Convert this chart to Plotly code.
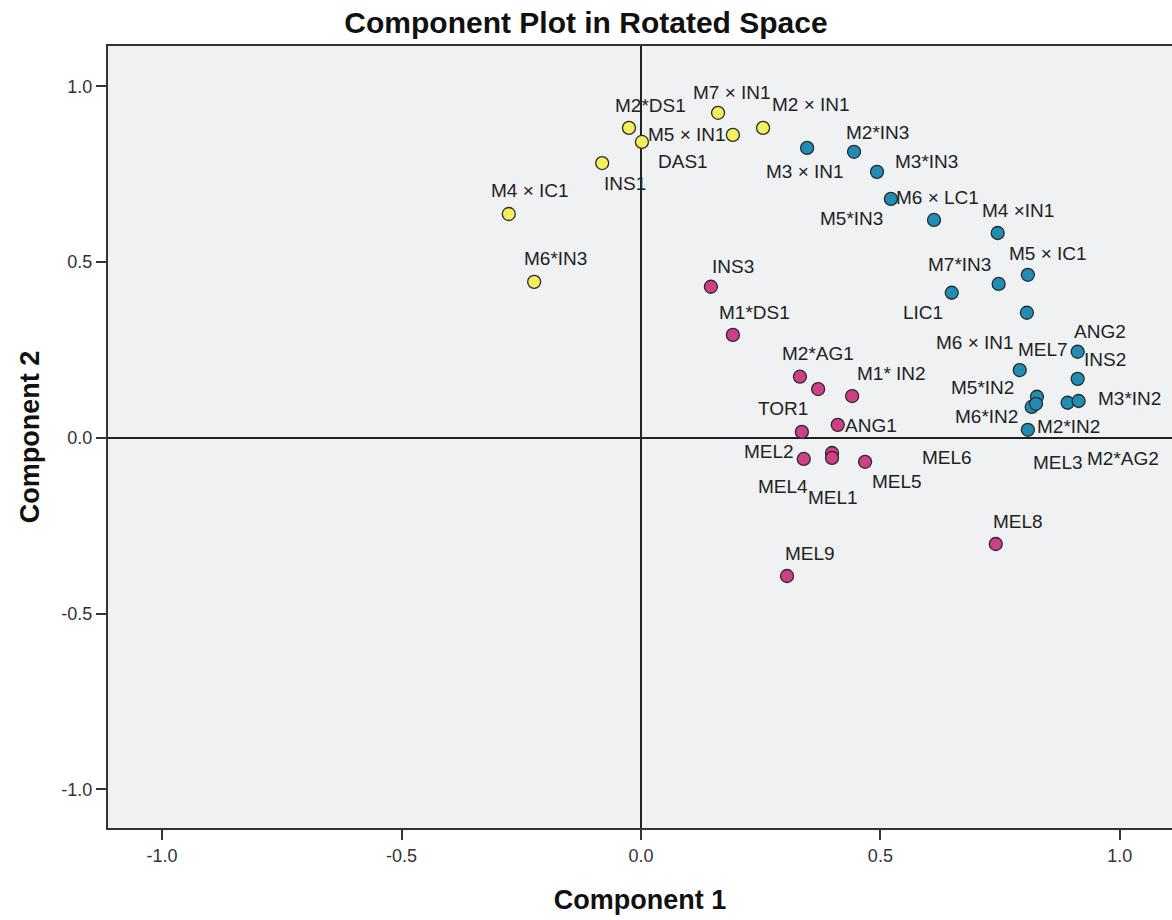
import plotly.graph_objects as go

# ---- data (component loadings) ----
yellow_names = ["M2*DS1", "DAS1", "M7 × IN1", "M5 × IN1", "M2 × IN1", "INS1", "M4 × IC1", "M6*IN3"]
yellow_x = [-0.025, 0.002, 0.161, 0.192, 0.255, -0.081, -0.276, -0.223]
yellow_y = [0.882, 0.842, 0.925, 0.862, 0.882, 0.782, 0.637, 0.444]

blue_names = ["M3 × IN1", "M2*IN3", "M3*IN3", "M6 × LC1", "M5*IN3", "M4 ×IN1", "M5 × IC1",
              "M7*IN3", "LIC1", "M6 × IN1", "ANG2", "MEL7", "INS2", "M5*IN2", "M6*IN2",
              "MEL3", "M2*AG2", "M3*IN2", "M2*IN2"]
blue_x = [0.347, 0.445, 0.493, 0.522, 0.612, 0.745, 0.808, 0.747, 0.649, 0.806, 0.912,
          0.791, 0.912, 0.827, 0.816, 0.825, 0.891, 0.914, 0.808]
blue_y = [0.825, 0.814, 0.757, 0.680, 0.620, 0.583, 0.464, 0.438, 0.413, 0.356, 0.245,
          0.193, 0.168, 0.117, 0.088, 0.097, 0.100, 0.105, 0.023]

pink_names = ["INS3", "M1*DS1", "M2*AG1", "MEL6", "M1* IN2", "TOR1", "ANG1", "MEL2",
              "MEL4", "MEL1", "MEL5", "MEL9", "MEL8"]
pink_x = [0.146, 0.192, 0.332, 0.370, 0.441, 0.336, 0.411, 0.340, 0.399, 0.399, 0.468, 0.305, 0.741]
pink_y = [0.430, 0.293, 0.174, 0.139, 0.119, 0.017, 0.037, -0.060, -0.043, -0.057, -0.068, -0.393, -0.302]

tick_vals = [-1.0, -0.5, 0.0, 0.5, 1.0]
tick_text = ["-1.0", "-0.5", "0.0", "0.5", "1.0"]

# ---- label placement offsets in pixels (style only) ----
yellow_off = [(22, -22), (41, 20), (14, -20), (-46, 0), (48, -23), (23, 20), (21, -24), (21, -23)]
blue_off = [(-2, 24), (23, -19), (49, -10), (47, -1), (-83, -1), (20, -22), (20, -21),
            (-39, -19), (-29, 20), (-52, 30), (22, -20), (23, -21), (27, -19), (-54, -9),
            (-45, 10), (22, 59), (55, 56), (51, -2), (41, -3)]
pink_off = [(22, -20), (22, -22), (18, -23), (129, 68), (39, -23), (-19, -23), (33, 1),
            (-35, -7), (-49, 34), (1, 40), (32, 20), (23, -23), (22, -23)]

FONT = "Liberation Sans, Arial, sans-serif"

groups = [
    (yellow_names, yellow_x, yellow_y, yellow_off, "#F4EF5E"),
    (blue_names, blue_x, blue_y, blue_off, "#1F8DB6"),
    (pink_names, pink_x, pink_y, pink_off, "#D23F89"),
]

fig = go.Figure()
annotations = []
for names, xs, ys, offs, color in groups:
    fig.add_trace(go.Scatter(
        x=xs, y=ys, mode="markers", text=names, hoverinfo="text",
        marker=dict(size=13, color=color, line=dict(color="#2a2a2a", width=1.3)),
        showlegend=False,
    ))
    for n, xv, yv, (dx, dy) in zip(names, xs, ys, offs):
        annotations.append(dict(
            x=xv, y=yv, xref="x", yref="y", text=n, showarrow=False,
            xshift=dx, yshift=-dy, xanchor="center", yanchor="middle",
            font=dict(family=FONT, size=19, color="#222222"),
        ))

fig.update_layout(
    width=1172, height=920,
    margin=dict(l=108, r=0, t=46, b=92),
    paper_bgcolor="white",
    plot_bgcolor="#F0F1F2",
    title=dict(text="Component Plot in Rotated Space", x=0.5, xref="container",
               y=1 - 22 / 920, yref="container", xanchor="center", yanchor="middle",
               font=dict(family=FONT, size=30, color="#111111", weight="bold")),
    annotations=annotations,
    font=dict(family=FONT),
)
fig.update_xaxes(
    range=[-1.113, 1.109], tickvals=tick_vals, ticktext=tick_text,
    showgrid=False, zeroline=True, zerolinecolor="#222222", zerolinewidth=2,
    showline=True, linecolor="#333333", linewidth=2, mirror=True,
    ticks="outside", ticklen=10, tickwidth=1.5, tickcolor="#333333",
    tickfont=dict(family=FONT, size=18, color="#333333"),
    title=dict(text="Component 1", standoff=26,
               font=dict(family=FONT, size=27, color="#111111", weight="bold")),
)
fig.update_yaxes(
    range=[-1.110, 1.115], tickvals=tick_vals, ticktext=tick_text,
    showgrid=False, zeroline=True, zerolinecolor="#222222", zerolinewidth=2,
    showline=True, linecolor="#333333", linewidth=2, mirror=False,
    ticks="outside", ticklen=10, tickwidth=1.5, tickcolor="#333333",
    tickfont=dict(family=FONT, size=18, color="#333333"),
    title=dict(text="Component 2", standoff=14,
               font=dict(family=FONT, size=27, color="#111111", weight="bold")),
)

fig.write_html("out.html", config={"displayModeBar": False},
               post_script="document.body.style.margin='0';")
